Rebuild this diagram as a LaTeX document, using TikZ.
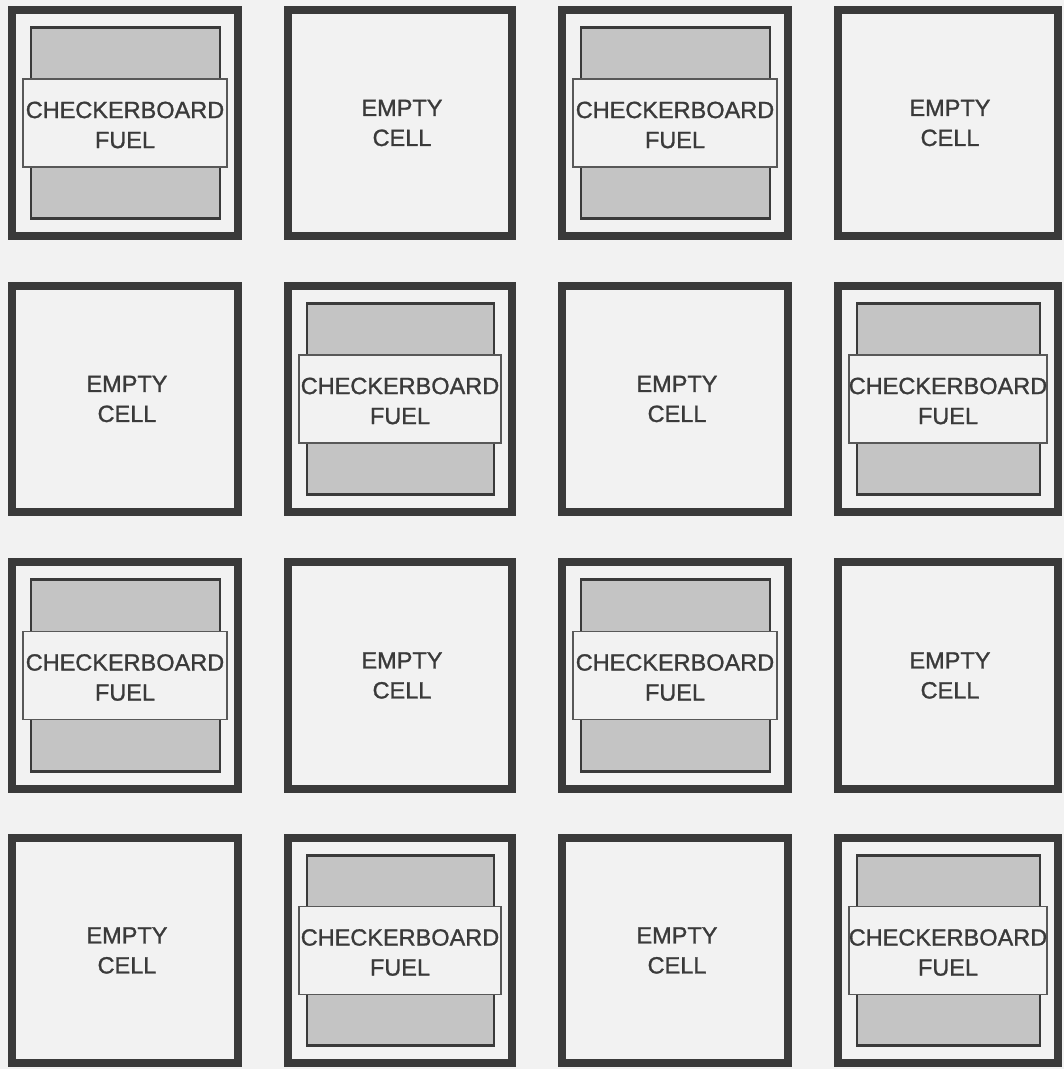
\documentclass[tikz,border=0pt]{standalone}
\usepackage{fontspec}
\setmainfont{Liberation Sans}
\newfontfamily\cellfont[FakeBold=1.2]{Liberation Sans}
\definecolor{bg}{HTML}{F2F2F2}
\definecolor{ink}{HTML}{3A3A3A}
\definecolor{fuel}{HTML}{C4C4C4}
\tikzset{
  cellwall/.style={draw=ink, line width=8pt, fill=bg, inner sep=0pt},
  fuelrod/.style={draw=ink, line width=2.5pt, fill=fuel, inner sep=0pt},
  labelbox/.style={draw=ink!85, line width=1.8pt, fill=bg, inner sep=0pt},
  celltext/.style={text=ink, font=\cellfont\fontsize{23.5}{30}\selectfont, align=center, inner sep=0pt},
}
\begin{document}
\begin{tikzpicture}[x=1pt,y=-1pt]
\fill[bg] (0,0) rectangle (1064,1069);
\useasboundingbox (0,0) rectangle (1064,1069);
\foreach \r/\yt/\yb in {1/6/240, 2/282/516, 3/558/793, 4/834/1067}{
  \foreach \c/\xl/\xr in {1/8/242, 2/284/516, 3/558/792, 4/834/1062}{
    \pgfmathsetmacro\xm{(\xl+\xr)/2}
    \pgfmathsetmacro\ym{(\yt+\yb)/2}
    \pgfmathsetmacro\w{\xr-\xl-8}
    \pgfmathsetmacro\h{\yb-\yt-8}
    \pgfmathsetmacro\fw{\xr-\xl-45}
    \pgfmathsetmacro\fh{\yb-\yt-43}
    \pgfmathsetmacro\lw{\xr-\xl-30}
    \pgfmathtruncatemacro\k{mod(\r+\c,2)}
    \node[cellwall, minimum width=\w pt, minimum height=\h pt] (cell-\r-\c) at (\xm,\ym) {};
    \ifnum\k=0
      \node[fuelrod, minimum width=\fw pt, minimum height=\fh pt] (rod-\r-\c) at (\xm+0.5,\ym) {};
      \node[labelbox, minimum width=\lw pt, minimum height=88pt] (box-\r-\c) at (\xm,\ym) {};
      \node[celltext] (txt-\r-\c) at (\xm,\ym+2) {CHECKERBOARD\\FUEL};
    \else
      \node[celltext] (txt-\r-\c) at (\xm+2,\ym) {EMPTY\\CELL};
    \fi
  }
}
\end{tikzpicture}
\end{document}
